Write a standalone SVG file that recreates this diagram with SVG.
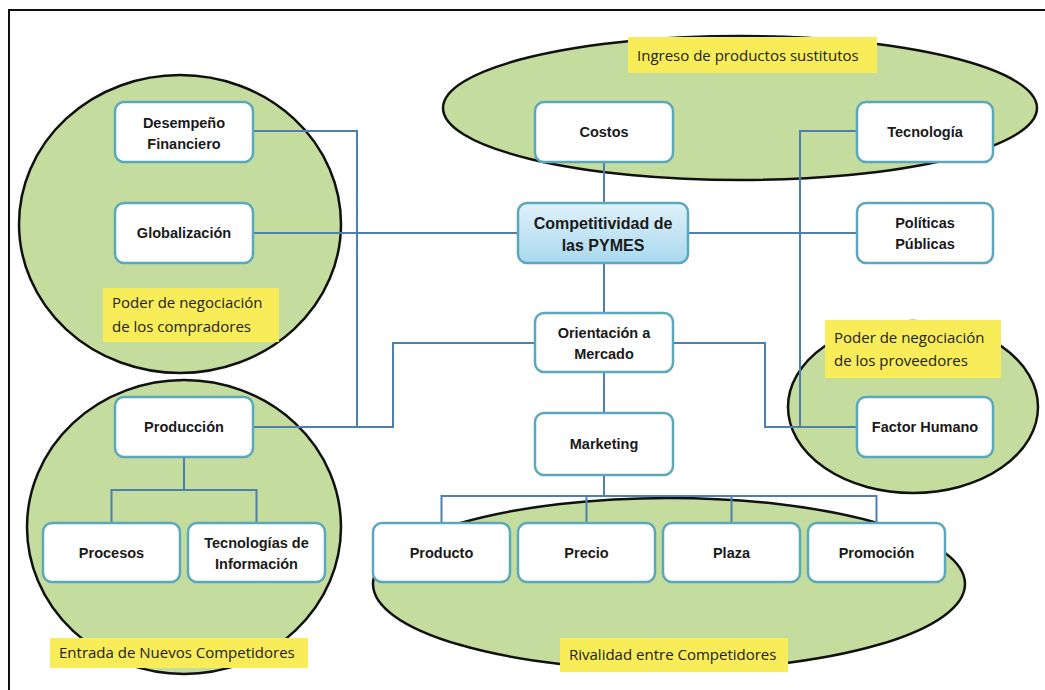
<svg xmlns="http://www.w3.org/2000/svg" width="1045" height="690" viewBox="0 0 1045 690">
<defs>
<linearGradient id="blueGrad" x1="0" y1="0" x2="0" y2="1">
<stop offset="0" stop-color="#dff1fa"/>
<stop offset="1" stop-color="#a9d9ef"/>
</linearGradient>
<style>
.ell{fill:#c4dc9e;stroke:#111;stroke-width:2.5}
.node{fill:#fff;stroke:#5aa8bc;stroke-width:2.5}
.main{fill:url(#blueGrad);stroke:#5aa8bc;stroke-width:2.5}
.nt{font-family:"Liberation Sans",Arial,sans-serif;font-weight:bold;font-size:14.5px;fill:#1a1a1a;text-anchor:middle}
.big{font-size:16px}
.lab{fill:#f8ec58}
.lt{font-family:"Open Sans","Liberation Sans",sans-serif;font-size:15px;fill:#222}
.con{fill:none;stroke:#4f7fae;stroke-width:2}
</style>
</defs>
<rect width="1045" height="690" fill="#fff"/>
<path d="M9,690 V10 H1045" fill="none" stroke="#111" stroke-width="2"/>

<g id="ellipses">
<ellipse id="ell-compradores" class="ell" cx="180" cy="224" rx="161" ry="149"/>
<ellipse id="ell-entrada" class="ell" cx="184" cy="527" rx="157" ry="147"/>
<ellipse id="ell-sustitutos" class="ell" cx="740" cy="108" rx="297" ry="72"/>
<ellipse id="ell-proveedores" class="ell" cx="913" cy="407" rx="125" ry="86"/>
<ellipse id="ell-rivalidad" class="ell" cx="669" cy="584" rx="296" ry="86"/>
</g>

<g id="connectors">
<path class="con" d="M604,162 V203"/>
<path class="con" d="M604,263 V313"/>
<path class="con" d="M604,372 V413"/>
<path class="con" d="M604,475 V496"/>
<path class="con" d="M441.5,523 V496 H876.5 V523"/>
<path class="con" d="M586.5,496 V523"/>
<path class="con" d="M731.5,496 V523"/>
<path class="con" d="M253,233 H518"/>
<path class="con" d="M688,233 H857"/>
<path class="con" d="M253,131 H357 V427"/>
<path class="con" d="M253,427 H393 V343 H535"/>
<path class="con" d="M184,457 V490"/>
<path class="con" d="M111.5,523 V490 H256.5 V523"/>
<path class="con" d="M857,131 H800 V427 H857"/>
<path class="con" d="M673,343 H765 V427 H800"/>
</g>

<g id="n-desempeno"><rect class="node" x="115" y="102" width="138" height="60" rx="9"/><text class="nt" x="184" y="128">Desempeño</text><text class="nt" x="184" y="149">Financiero</text></g>
<g id="n-globalizacion"><rect class="node" x="115" y="203" width="138" height="60" rx="9"/><text class="nt" x="184" y="238">Globalización</text></g>
<g id="n-costos"><rect class="node" x="535" y="102" width="138" height="60" rx="9"/><text class="nt" x="604" y="137">Costos</text></g>
<g id="n-competitividad"><rect class="main" x="518" y="203" width="170" height="60" rx="9"/><text class="nt big" x="603" y="229">Competitividad de</text><text class="nt big" x="603" y="251">las PYMES</text></g>
<g id="n-orientacion"><rect class="node" x="535" y="313" width="138" height="59" rx="9"/><text class="nt" x="604" y="338">Orientación a</text><text class="nt" x="604" y="359">Mercado</text></g>
<g id="n-tecnologia"><rect class="node" x="857" y="102" width="136" height="60" rx="9"/><text class="nt" x="925" y="137">Tecnología</text></g>
<g id="n-politicas"><rect class="node" x="857" y="203" width="136" height="60" rx="9"/><text class="nt" x="925" y="228">Políticas</text><text class="nt" x="925" y="249">Públicas</text></g>
<g id="n-factor"><rect class="node" x="857" y="397" width="136" height="60" rx="9"/><text class="nt" x="925" y="432">Factor Humano</text></g>
<g id="n-produccion"><rect class="node" x="115" y="397" width="138" height="60" rx="9"/><text class="nt" x="184" y="432">Producción</text></g>
<g id="n-procesos"><rect class="node" x="43" y="523" width="137" height="59" rx="9"/><text class="nt" x="111.5" y="558">Procesos</text></g>
<g id="n-tecinfo"><rect class="node" x="188" y="523" width="137" height="59" rx="9"/><text class="nt" x="256.5" y="548">Tecnologías de</text><text class="nt" x="256.5" y="569">Información</text></g>
<g id="n-marketing"><rect class="node" x="535" y="413" width="138" height="62" rx="9"/><text class="nt" x="604" y="449">Marketing</text></g>
<g id="n-producto"><rect class="node" x="373" y="523" width="137" height="59" rx="9"/><text class="nt" x="441.5" y="558">Producto</text></g>
<g id="n-precio"><rect class="node" x="518" y="523" width="137" height="59" rx="9"/><text class="nt" x="586.5" y="558">Precio</text></g>
<g id="n-plaza"><rect class="node" x="663" y="523" width="137" height="59" rx="9"/><text class="nt" x="731.5" y="558">Plaza</text></g>
<g id="n-promocion"><rect class="node" x="808" y="523" width="137" height="59" rx="9"/><text class="nt" x="876.5" y="558">Promoción</text></g>

<g id="l-compradores"><rect class="lab" x="103" y="288" width="176" height="54"/><text class="lt" x="112" y="308">Poder de negociación</text><text class="lt" x="112" y="332">de los compradores</text></g>
<g id="l-sustitutos"><rect class="lab" x="628" y="37" width="249" height="36"/><text class="lt" x="637" y="61">Ingreso de productos sustitutos</text></g>
<g id="l-proveedores"><rect class="lab" x="825" y="320" width="176" height="58"/><text class="lt" x="834" y="343">Poder de negociación</text><text class="lt" x="834" y="366">de los proveedores</text></g>
<g id="l-entrada"><rect class="lab" x="50" y="638" width="258" height="30"/><text class="lt" x="59" y="658">Entrada de Nuevos Competidores</text></g>
<g id="l-rivalidad"><rect class="lab" x="560" y="638" width="228" height="34"/><text class="lt" x="569" y="660">Rivalidad entre Competidores</text></g>
</svg>
